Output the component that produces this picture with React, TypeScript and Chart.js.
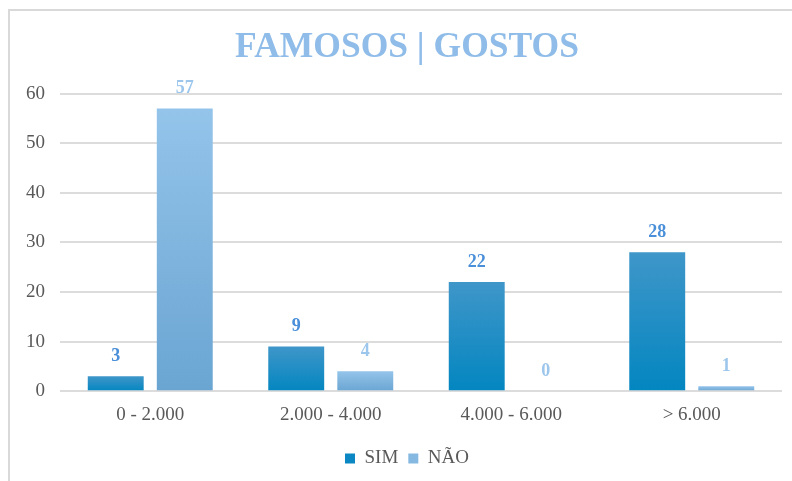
import React, { useEffect, useRef } from "react";
import { Chart, registerables } from "chart.js";

Chart.register(...registerables);

const categories = ["0 - 2.000", "2.000 - 4.000", "4.000 - 6.000", "> 6.000"];
const simValues = [3, 9, 22, 28];
const naoValues = [57, 4, 0, 1];
const seriesNames = ["SIM", "NÃO"];
const yTicks = [0, 10, 20, 30, 40, 50, 60];
const titleText = "FAMOSOS | GOSTOS";

const FONT = "'Liberation Serif', 'Times New Roman', serif";

function barGradient(ctx: any, top: string, bottom: string) {
  const chart = ctx.chart;
  const area = chart.chartArea;
  if (!area) return bottom;
  const yScale = chart.scales.y;
  const v = ctx.parsed ? ctx.parsed.y : ctx.raw;
  const yTop = yScale.getPixelForValue(v);
  const yBot = yScale.getPixelForValue(0);
  if (!isFinite(yTop) || !isFinite(yBot) || Math.abs(yBot - yTop) < 1) return bottom;
  const g = chart.ctx.createLinearGradient(0, yTop, 0, yBot);
  g.addColorStop(0, top);
  g.addColorStop(1, bottom);
  return g;
}

const borderPlugin = {
  id: "outerBorder",
  beforeDraw(chart: any) {
    const c = chart.ctx;
    c.save();
    c.fillStyle = "#ffffff";
    c.fillRect(0, 0, chart.width, chart.height);
    c.strokeStyle = "#d9d9d9";
    c.lineWidth = 2;
    c.beginPath();
    c.moveTo(9, chart.height);
    c.lineTo(9, 10);
    c.lineTo(chart.width, 10);
    c.stroke();
    c.restore();
  },
};

const labelColors = ["#4a8fd9", "#9cc6ec"];

const valueLabelPlugin = {
  id: "valueLabels",
  afterDatasetsDraw(chart: any) {
    const c = chart.ctx;
    c.save();
    c.font = `bold 18px ${FONT}`;
    c.textAlign = "center";
    c.textBaseline = "middle";
    chart.data.datasets.forEach((ds: any, di: number) => {
      const meta = chart.getDatasetMeta(di);
      c.fillStyle = labelColors[di];
      meta.data.forEach((el: any, i: number) => {
        c.fillText(String(ds.data[i]), el.x, el.y - 20);
      });
    });
    c.restore();
  },
};

export default function App() {
  const ref = useRef<HTMLCanvasElement | null>(null);
  useEffect(() => {
    if (!ref.current) return;
    const chart = new Chart(ref.current, {
      type: "bar",
      data: {
        labels: categories,
        datasets: [
          {
            label: seriesNames[0],
            data: simValues,
            backgroundColor: (ctx: any) => barGradient(ctx, "#3f96c9", "#0386c0"),
            borderWidth: 0,
            categoryPercentage: 0.765,
            barPercentage: 0.81,
          },
          {
            label: seriesNames[1],
            data: naoValues,
            backgroundColor: (ctx: any) => barGradient(ctx, "#94c4ea", "#6aa5d2"),
            borderWidth: 0,
            categoryPercentage: 0.765,
            barPercentage: 0.81,
          },
        ],
      },
      options: {
        animation: false,
        responsive: false,
        devicePixelRatio: 1,
        layout: { padding: { left: 32, right: 10, top: 0, bottom: 3 } },
        plugins: {
          title: {
            display: true,
            text: titleText,
            color: "#8fbce8",
            font: { family: FONT, size: 35.5, weight: "bold" },
            padding: { top: 27, bottom: 24 },
          },
          legend: {
            display: true,
            position: "bottom",
            labels: {
              color: "#595959",
              font: { family: FONT, size: 19 },
              boxWidth: 10,
              boxHeight: 10,
              padding: 10,
              generateLabels: () =>
                seriesNames.map((n, i) => ({
                  text: n,
                  fillStyle: i === 0 ? "#0b88c3" : "#85b9e1",
                  strokeStyle: i === 0 ? "#0b88c3" : "#85b9e1",
                  lineWidth: 0,
                  datasetIndex: i,
                  fontColor: "#595959",
                })),
            },
          },
          tooltip: { enabled: false },
        },
        scales: {
          x: {
            grid: { display: false },
            border: { display: false },
            ticks: {
              color: "#595959",
              font: { family: FONT, size: 19 },
              padding: 4,
            },
            afterFit: (s: any) => {
              s.height = 47.8;
            },
          },
          y: {
            min: 0,
            max: 60,
            afterBuildTicks: (s: any) => {
              s.ticks = yTicks.map((v) => ({ value: v }));
            },
            afterFit: (s: any) => {
              s.width = 28;
              s._computeLabelArea = () => undefined;
            },
            grid: { color: "#dcdcdc", lineWidth: 2, drawTicks: false },
            border: { display: false },
            ticks: {
              color: "#595959",
              font: { family: FONT, size: 19 },
              padding: 15,
            },
          },
        },
      },
      plugins: [borderPlugin, valueLabelPlugin],
    });
    return () => chart.destroy();
  }, []);
  return (
    <div style={{ position: "absolute", left: 0, top: 0, width: 792, height: 481 }}>
      <canvas ref={ref} width={792} height={481} />
    </div>
  );
}
